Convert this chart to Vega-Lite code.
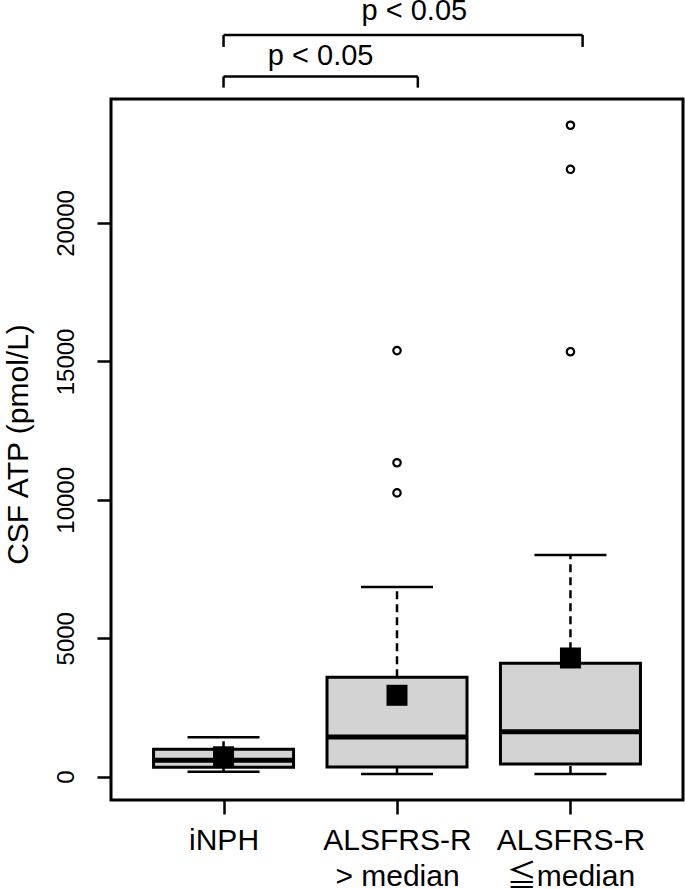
{
  "$schema": "https://vega.github.io/schema/vega-lite/v6.json",
  "width": 572,
  "height": 701,
  "autosize": {"type": "none"},
  "padding": {"left": 111, "top": 99, "right": 2, "bottom": 89},
  "background": "white",
  "config": {
    "font": "Liberation Sans, Arial, Noto Sans CJK JP, sans-serif",
    "view": {"stroke": "black", "strokeWidth": 3}
  },
  "datasets": {
    "boxes": [
      {"group": 1, "lower": 181, "q1": 340, "median": 592, "q3": 989, "upper": 1423, "mean": 719},
      {"group": 2, "lower": 98, "q1": 350, "median": 1434, "q3": 3590, "upper": 6850, "mean": 2940},
      {"group": 3, "lower": 98, "q1": 459, "median": 1625, "q3": 4096, "upper": 8010, "mean": 4288}
    ],
    "outliers": [
      {"group": 2, "value": 10250},
      {"group": 2, "value": 11340},
      {"group": 2, "value": 15390},
      {"group": 3, "value": 15350},
      {"group": 3, "value": 21940},
      {"group": 3, "value": 23530}
    ],
    "bars": [
      {"from": 1.0, "to": 2.12, "level": 25290, "foot": 24890},
      {"from": 1.0, "to": 3.07, "level": 26790, "foot": 26360}
    ],
    "legs": [
      {"at": 1.0, "level": 25290, "foot": 24890},
      {"at": 2.12, "level": 25290, "foot": 24890},
      {"at": 1.0, "level": 26790, "foot": 26360},
      {"at": 3.07, "level": 26790, "foot": 26360}
    ],
    "labels": [
      {"at": 1.56, "level": 25720, "text": "p < 0.05"},
      {"at": 2.10, "level": 27340, "text": "p < 0.05"}
    ]
  },
  "layer": [
    {
      "data": {"name": "boxes"},
      "mark": {"type": "rule", "color": "black", "strokeWidth": 2.5, "strokeDash": [8, 5]},
      "encoding": {
        "x": {
          "field": "group", "type": "quantitative",
          "scale": {"domain": [0.38, 3.62], "nice": false, "zero": false},
          "axis": {
            "title": null,
            "values": [1, 2, 3],
            "domain": false,
            "grid": false,
            "tickSize": 14,
            "tickWidth": 2.5,
            "tickColor": "black",
            "labelFontSize": 30,
            "labelColor": "black",
            "labelPadding": 35,
            "labelBaseline": "alphabetic",
            "labelLineHeight": 36,
            "labelAlign": "center",
            "labelFlush": false,
            "labelOverlap": false,
            "labelExpr": "datum.value == 1 ? 'iNPH' : datum.value == 2 ? ['ALSFRS-R', '> median'] : ['ALSFRS-R', '≦median']"
          }
        },
        "y": {
          "field": "q3", "type": "quantitative",
          "scale": {"domain": [-842, 24479], "nice": false, "zero": false},
          "axis": {
            "title": "CSF ATP (pmol/L)",
            "values": [0, 5000, 10000, 15000, 20000],
            "format": "d",
            "domain": false,
            "grid": false,
            "tickSize": 14,
            "tickWidth": 2.5,
            "tickColor": "black",
            "labelFontSize": 24,
            "labelColor": "black",
            "labelAngle": 270,
            "labelAlign": "center",
            "labelBaseline": "alphabetic",
            "labelPadding": 24,
            "labelFlush": false,
            "labelOverlap": false,
            "titleFontSize": 30,
            "titleFontWeight": "normal",
            "titleColor": "black",
            "titleAngle": 270,
            "titleAlign": "center",
            "titleBaseline": "alphabetic",
            "titleX": -84,
            "titleY": 345
          }
        },
        "y2": {"field": "upper"}
      }
    },
    {
      "data": {"name": "boxes"},
      "mark": {"type": "rule", "color": "black", "strokeWidth": 2.5, "strokeDash": [8, 5]},
      "encoding": {
        "x": {"field": "group", "type": "quantitative", "scale": {"domain": [0.38, 3.62], "nice": false, "zero": false}, "title": null},
        "y": {"field": "lower", "type": "quantitative", "scale": {"domain": [-842, 24479], "nice": false, "zero": false}, "title": "CSF ATP (pmol/L)"},
        "y2": {"field": "q1"}
      }
    },
    {
      "data": {"name": "boxes"},
      "mark": {"type": "tick", "orient": "horizontal", "color": "black", "size": 72, "thickness": 2.5, "opacity": 1},
      "encoding": {
        "x": {"field": "group", "type": "quantitative", "scale": {"domain": [0.38, 3.62], "nice": false, "zero": false}, "title": null},
        "y": {"field": "upper", "type": "quantitative", "scale": {"domain": [-842, 24479], "nice": false, "zero": false}, "title": "CSF ATP (pmol/L)"}
      }
    },
    {
      "data": {"name": "boxes"},
      "mark": {"type": "tick", "orient": "horizontal", "color": "black", "size": 72, "thickness": 2.5, "opacity": 1},
      "encoding": {
        "x": {"field": "group", "type": "quantitative", "scale": {"domain": [0.38, 3.62], "nice": false, "zero": false}, "title": null},
        "y": {"field": "lower", "type": "quantitative", "scale": {"domain": [-842, 24479], "nice": false, "zero": false}, "title": "CSF ATP (pmol/L)"}
      }
    },
    {
      "data": {"name": "boxes"},
      "mark": {"type": "bar", "width": 140, "fill": "#d3d3d3", "stroke": "black", "strokeWidth": 3, "opacity": 1},
      "encoding": {
        "x": {"field": "group", "type": "quantitative", "scale": {"domain": [0.38, 3.62], "nice": false, "zero": false}, "title": null},
        "y": {"field": "q1", "type": "quantitative", "scale": {"domain": [-842, 24479], "nice": false, "zero": false}, "title": "CSF ATP (pmol/L)"},
        "y2": {"field": "q3"}
      }
    },
    {
      "data": {"name": "boxes"},
      "mark": {"type": "tick", "orient": "horizontal", "color": "black", "size": 140, "thickness": 5, "opacity": 1},
      "encoding": {
        "x": {"field": "group", "type": "quantitative", "scale": {"domain": [0.38, 3.62], "nice": false, "zero": false}, "title": null},
        "y": {"field": "median", "type": "quantitative", "scale": {"domain": [-842, 24479], "nice": false, "zero": false}, "title": "CSF ATP (pmol/L)"}
      }
    },
    {
      "data": {"name": "boxes"},
      "mark": {"type": "point", "shape": "square", "filled": true, "color": "black", "size": 441, "opacity": 1},
      "encoding": {
        "x": {"field": "group", "type": "quantitative", "scale": {"domain": [0.38, 3.62], "nice": false, "zero": false}, "title": null},
        "y": {"field": "mean", "type": "quantitative", "scale": {"domain": [-842, 24479], "nice": false, "zero": false}, "title": "CSF ATP (pmol/L)"}
      }
    },
    {
      "data": {"name": "outliers"},
      "mark": {"type": "point", "shape": "circle", "filled": false, "color": "black", "size": 55, "strokeWidth": 2.2, "opacity": 1},
      "encoding": {
        "x": {"field": "group", "type": "quantitative", "scale": {"domain": [0.38, 3.62], "nice": false, "zero": false}, "title": null},
        "y": {"field": "value", "type": "quantitative", "scale": {"domain": [-842, 24479], "nice": false, "zero": false}, "title": "CSF ATP (pmol/L)"}
      }
    },
    {
      "data": {"name": "bars"},
      "mark": {"type": "rule", "color": "black", "strokeWidth": 2.5, "clip": false},
      "encoding": {
        "x": {"field": "from", "type": "quantitative", "scale": {"domain": [0.38, 3.62], "nice": false, "zero": false}, "title": null},
        "x2": {"field": "to"},
        "y": {"field": "level", "type": "quantitative", "scale": {"domain": [-842, 24479], "nice": false, "zero": false}, "title": "CSF ATP (pmol/L)"}
      }
    },
    {
      "data": {"name": "legs"},
      "mark": {"type": "rule", "color": "black", "strokeWidth": 2.5, "clip": false},
      "encoding": {
        "x": {"field": "at", "type": "quantitative", "scale": {"domain": [0.38, 3.62], "nice": false, "zero": false}, "title": null},
        "y": {"field": "level", "type": "quantitative", "scale": {"domain": [-842, 24479], "nice": false, "zero": false}, "title": "CSF ATP (pmol/L)"},
        "y2": {"field": "foot"}
      }
    },
    {
      "data": {"name": "labels"},
      "mark": {"type": "text", "fontSize": 29, "color": "black", "align": "center", "baseline": "alphabetic", "clip": false},
      "encoding": {
        "x": {"field": "at", "type": "quantitative", "scale": {"domain": [0.38, 3.62], "nice": false, "zero": false}, "title": null},
        "y": {"field": "level", "type": "quantitative", "scale": {"domain": [-842, 24479], "nice": false, "zero": false}, "title": "CSF ATP (pmol/L)"},
        "text": {"field": "text"}
      }
    }
  ]
}
